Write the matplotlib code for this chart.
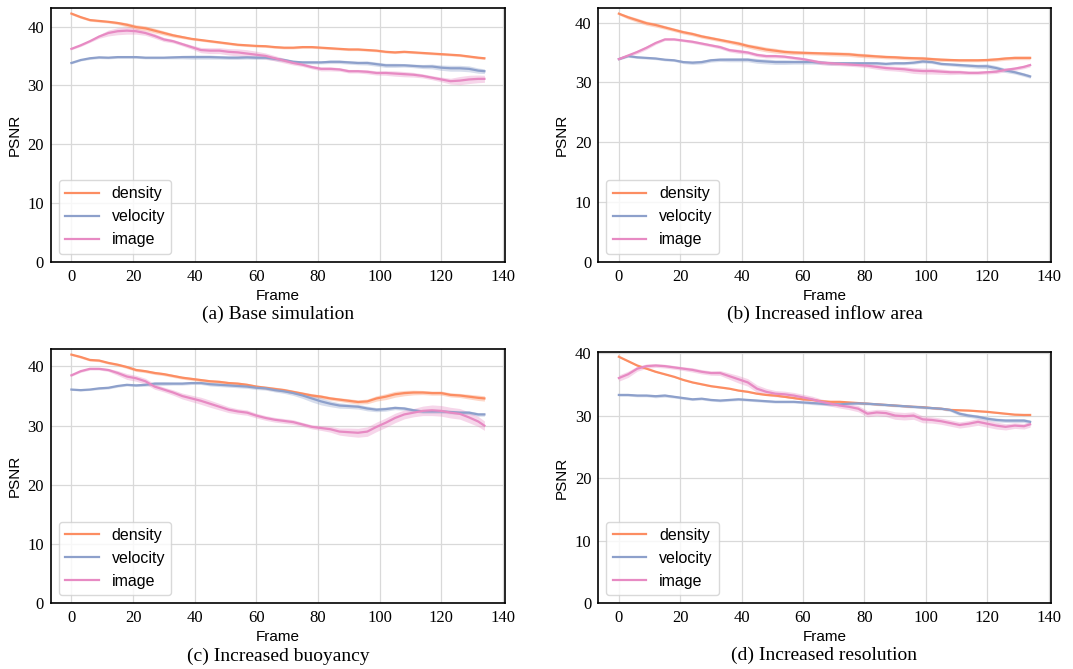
import numpy as np
import matplotlib.pyplot as plt

# frames sampled every 3 steps, plus the last frame
frames = np.append(np.arange(0, 133, 3), 134)

# (a) base simulation
a_density = [42.2, 41.6, 41.1, 40.95, 40.8, 40.6, 40.3, 39.9, 39.7, 39.3, 38.9, 38.5, 38.2, 37.9, 37.7, 37.5,
             37.3, 37.1, 36.9, 36.8, 36.7, 36.65, 36.5, 36.4, 36.4, 36.5, 36.5, 36.4, 36.3, 36.2, 36.1, 36.1,
             36.0, 35.9, 35.7, 35.6, 35.7, 35.6, 35.5, 35.4, 35.3, 35.2, 35.1, 34.9, 34.7, 34.6]
a_velocity = [33.8, 34.3, 34.6, 34.75, 34.7, 34.8, 34.8, 34.8, 34.7, 34.7, 34.7, 34.75, 34.8, 34.8, 34.8, 34.8,
              34.75, 34.7, 34.7, 34.75, 34.7, 34.7, 34.5, 34.3, 34.0, 33.9, 33.9, 33.9, 34.0, 34.0, 33.9, 33.8,
              33.8, 33.6, 33.4, 33.4, 33.4, 33.3, 33.2, 33.2, 33.0, 32.9, 32.9, 32.8, 32.5, 32.4]
a_image = [36.2, 36.8, 37.5, 38.3, 38.9, 39.2, 39.3, 39.2, 38.9, 38.4, 37.8, 37.5, 37.0, 36.5, 36.0, 35.9,
           35.9, 35.7, 35.6, 35.4, 35.2, 35.0, 34.6, 34.2, 33.8, 33.5, 33.1, 32.8, 32.8, 32.7, 32.4, 32.4,
           32.3, 32.1, 32.1, 32.0, 31.9, 31.8, 31.6, 31.3, 31.0, 30.7, 30.8, 31.0, 31.1, 31.1]
a_density_sd = [0.2, 0.2, 0.2, 0.2, 0.2, 0.25, 0.35, 0.4, 0.4, 0.4, 0.35, 0.3, 0.25, 0.2, 0.2, 0.2,
                0.2, 0.2, 0.2, 0.2, 0.2, 0.2, 0.2, 0.2, 0.2, 0.2, 0.2, 0.2, 0.2, 0.2, 0.2, 0.2,
                0.2, 0.2, 0.2, 0.2, 0.2, 0.2, 0.2, 0.2, 0.2, 0.2, 0.2, 0.2, 0.2, 0.2]
a_velocity_sd = [0.15, 0.15, 0.2, 0.2, 0.2, 0.2, 0.2, 0.2, 0.2, 0.2, 0.2, 0.25, 0.3, 0.35, 0.35, 0.35,
                 0.3, 0.3, 0.3, 0.3, 0.3, 0.3, 0.3, 0.3, 0.3, 0.25, 0.25, 0.25, 0.3, 0.3, 0.3, 0.3,
                 0.35, 0.35, 0.35, 0.35, 0.3, 0.3, 0.35, 0.4, 0.45, 0.5, 0.5, 0.5, 0.45, 0.4]
a_image_sd = [0.15, 0.2, 0.2, 0.3, 0.5, 0.6, 0.6, 0.5, 0.4, 0.4, 0.35, 0.3, 0.3, 0.35, 0.45, 0.5,
              0.5, 0.55, 0.6, 0.65, 0.6, 0.5, 0.45, 0.4, 0.35, 0.3, 0.3, 0.35, 0.35, 0.3, 0.3, 0.3,
              0.35, 0.35, 0.4, 0.45, 0.45, 0.4, 0.35, 0.35, 0.4, 0.5, 0.7, 0.7, 0.65, 0.6]

# (b) increased inflow area
b_density = [41.5, 40.9, 40.4, 39.9, 39.6, 39.2, 38.8, 38.4, 38.1, 37.7, 37.4, 37.1, 36.8, 36.5, 36.1, 35.8,
             35.5, 35.3, 35.1, 35.0, 34.95, 34.9, 34.85, 34.8, 34.75, 34.7, 34.55, 34.45, 34.35, 34.25, 34.2, 34.1,
             34.05, 34.0, 33.9, 33.8, 33.75, 33.7, 33.7, 33.7, 33.75, 33.85, 34.0, 34.1, 34.1, 34.1]
b_velocity = [33.9, 34.4, 34.2, 34.1, 34.0, 33.8, 33.7, 33.4, 33.3, 33.4, 33.7, 33.8, 33.8, 33.8, 33.8, 33.6,
              33.5, 33.4, 33.4, 33.4, 33.4, 33.4, 33.3, 33.2, 33.2, 33.2, 33.2, 33.2, 33.2, 33.1, 33.2, 33.2,
              33.3, 33.5, 33.4, 33.1, 33.0, 32.9, 32.8, 32.7, 32.7, 32.4, 32.0, 31.7, 31.3, 31.0]
b_image = [33.9, 34.5, 35.1, 35.8, 36.6, 37.2, 37.2, 37.0, 36.8, 36.5, 36.2, 35.9, 35.4, 35.2, 35.0, 34.6,
           34.4, 34.4, 34.3, 34.1, 33.9, 33.6, 33.3, 33.2, 33.1, 33.0, 32.9, 32.8, 32.6, 32.4, 32.3, 32.2,
           32.0, 31.9, 31.9, 31.8, 31.7, 31.7, 31.6, 31.6, 31.7, 31.8, 32.1, 32.3, 32.6, 32.9]
b_density_sd = [0.2, 0.3, 0.35, 0.35, 0.35, 0.3, 0.3, 0.3, 0.3, 0.3, 0.3, 0.3, 0.3, 0.35, 0.35, 0.4,
                0.4, 0.4, 0.35, 0.35, 0.3, 0.3, 0.3, 0.35, 0.35, 0.35, 0.35, 0.35, 0.3, 0.3, 0.3, 0.3,
                0.3, 0.35, 0.3, 0.3, 0.25, 0.25, 0.25, 0.25, 0.25, 0.3, 0.3, 0.3, 0.3, 0.3]
b_velocity_sd = [0.15, 0.2, 0.2, 0.2, 0.2, 0.2, 0.2, 0.25, 0.3, 0.3, 0.3, 0.3, 0.35, 0.35, 0.35, 0.4,
                 0.4, 0.4, 0.4, 0.35, 0.35, 0.35, 0.3, 0.3, 0.3, 0.3, 0.3, 0.25, 0.25, 0.25, 0.25, 0.25,
                 0.25, 0.25, 0.25, 0.25, 0.25, 0.3, 0.3, 0.35, 0.4, 0.4, 0.35, 0.3, 0.3, 0.3]
b_image_sd = [0.15, 0.2, 0.3, 0.3, 0.25, 0.2, 0.2, 0.2, 0.25, 0.25, 0.25, 0.3, 0.3, 0.35, 0.3, 0.3,
              0.3, 0.3, 0.25, 0.25, 0.25, 0.3, 0.35, 0.35, 0.3, 0.3, 0.3, 0.35, 0.4, 0.4, 0.4, 0.45,
              0.5, 0.5, 0.5, 0.45, 0.4, 0.35, 0.3, 0.3, 0.3, 0.3, 0.3, 0.3, 0.3, 0.3]

# (c) increased buoyancy
c_density = [42.0, 41.6, 41.1, 41.0, 40.6, 40.3, 39.9, 39.4, 39.2, 38.9, 38.7, 38.4, 38.1, 37.9, 37.7, 37.5,
             37.4, 37.2, 37.1, 36.9, 36.6, 36.4, 36.2, 36.0, 35.7, 35.4, 35.1, 34.9, 34.6, 34.4, 34.2, 34.0,
             34.1, 34.6, 34.9, 35.3, 35.5, 35.6, 35.6, 35.5, 35.5, 35.2, 35.1, 34.9, 34.7, 34.6]
c_velocity = [36.1, 36.0, 36.1, 36.3, 36.4, 36.7, 36.9, 36.8, 36.9, 37.1, 37.1, 37.1, 37.1, 37.2, 37.2, 37.0,
              36.9, 36.8, 36.7, 36.6, 36.4, 36.3, 36.0, 35.8, 35.5, 35.1, 34.6, 34.1, 33.7, 33.4, 33.3, 33.2,
              32.9, 32.7, 32.8, 33.0, 32.9, 32.6, 32.4, 32.4, 32.4, 32.3, 32.2, 32.2, 31.9, 31.9]
c_image = [38.5, 39.2, 39.6, 39.6, 39.4, 38.9, 38.3, 38.0, 37.5, 36.6, 36.1, 35.6, 35.0, 34.6, 34.2, 33.7,
           33.2, 32.7, 32.4, 32.2, 31.7, 31.3, 31.0, 30.8, 30.6, 30.2, 29.8, 29.6, 29.4, 29.0, 28.9, 28.8,
           29.0, 29.8, 30.5, 31.3, 31.9, 32.2, 32.5, 32.6, 32.5, 32.2, 32.0, 31.4, 30.7, 30.0]
c_density_sd = [0.15, 0.2, 0.2, 0.2, 0.2, 0.2, 0.25, 0.25, 0.25, 0.25, 0.25, 0.25, 0.25, 0.25, 0.25, 0.25,
                0.25, 0.25, 0.25, 0.25, 0.25, 0.3, 0.3, 0.3, 0.3, 0.3, 0.3, 0.3, 0.3, 0.3, 0.35, 0.35,
                0.4, 0.45, 0.5, 0.5, 0.45, 0.4, 0.35, 0.35, 0.35, 0.35, 0.35, 0.4, 0.45, 0.45]
c_velocity_sd = [0.15, 0.15, 0.15, 0.2, 0.2, 0.2, 0.2, 0.2, 0.25, 0.3, 0.3, 0.25, 0.25, 0.25, 0.25, 0.3,
                 0.3, 0.3, 0.3, 0.3, 0.3, 0.3, 0.3, 0.35, 0.4, 0.5, 0.6, 0.6, 0.5, 0.45, 0.4, 0.4,
                 0.4, 0.35, 0.35, 0.3, 0.3, 0.3, 0.3, 0.3, 0.3, 0.3, 0.3, 0.3, 0.3, 0.3]
c_image_sd = [0.15, 0.2, 0.2, 0.2, 0.25, 0.4, 0.5, 0.5, 0.5, 0.45, 0.4, 0.45, 0.5, 0.55, 0.6, 0.6,
              0.55, 0.5, 0.45, 0.45, 0.4, 0.4, 0.4, 0.4, 0.4, 0.35, 0.35, 0.4, 0.5, 0.6, 0.7, 0.75,
              0.8, 0.8, 0.8, 0.8, 0.75, 0.7, 0.8, 0.9, 0.9, 0.9, 0.9, 0.9, 0.85, 0.8]

# (d) increased resolution
d_density = [39.4, 38.7, 38.0, 37.5, 37.0, 36.6, 36.2, 35.7, 35.3, 35.0, 34.7, 34.5, 34.3, 34.0, 33.8, 33.5,
             33.3, 33.2, 33.0, 32.8, 32.6, 32.5, 32.3, 32.2, 32.2, 32.1, 32.0, 31.9, 31.8, 31.7, 31.6, 31.5,
             31.4, 31.35, 31.2, 31.1, 30.9, 30.85, 30.8, 30.7, 30.6, 30.45, 30.3, 30.15, 30.1, 30.1]
d_velocity = [33.3, 33.3, 33.2, 33.2, 33.1, 33.2, 33.0, 32.8, 32.6, 32.7, 32.5, 32.4, 32.5, 32.6, 32.5, 32.4,
              32.3, 32.2, 32.2, 32.2, 32.1, 32.0, 31.9, 31.8, 31.8, 31.9, 31.95, 31.9, 31.8, 31.7, 31.6, 31.5,
              31.4, 31.3, 31.2, 31.1, 30.9, 30.3, 30.0, 29.8, 29.5, 29.3, 29.2, 29.2, 29.2, 29.0]
d_image = [36.0, 36.6, 37.5, 37.9, 38.0, 37.9, 37.7, 37.5, 37.3, 37.0, 36.8, 36.8, 36.3, 35.8, 35.3, 34.3,
           33.8, 33.5, 33.4, 33.2, 32.9, 32.6, 32.2, 31.9, 31.6, 31.4, 31.1, 30.3, 30.5, 30.4, 30.0, 29.9,
           30.0, 29.4, 29.3, 29.1, 28.8, 28.5, 28.7, 29.0, 28.7, 28.4, 28.2, 28.4, 28.3, 28.6]
d_density_sd = [0.1, 0.1, 0.1, 0.1, 0.1, 0.1, 0.1, 0.1, 0.1, 0.1, 0.1, 0.1, 0.1, 0.1, 0.1, 0.1,
                0.1, 0.1, 0.1, 0.1, 0.1, 0.1, 0.1, 0.1, 0.1, 0.1, 0.1, 0.1, 0.1, 0.1, 0.1, 0.1,
                0.1, 0.1, 0.1, 0.1, 0.1, 0.1, 0.1, 0.1, 0.1, 0.1, 0.1, 0.1, 0.1, 0.1]
d_velocity_sd = [0.2, 0.2, 0.2, 0.2, 0.25, 0.25, 0.2, 0.2, 0.2, 0.2, 0.2, 0.2, 0.2, 0.2, 0.2, 0.2,
                 0.2, 0.2, 0.2, 0.2, 0.2, 0.25, 0.25, 0.25, 0.2, 0.2, 0.2, 0.2, 0.2, 0.2, 0.2, 0.2,
                 0.2, 0.2, 0.2, 0.2, 0.25, 0.3, 0.3, 0.3, 0.3, 0.3, 0.3, 0.3, 0.3, 0.3]
d_image_sd = [0.5, 0.5, 0.4, 0.35, 0.3, 0.3, 0.3, 0.3, 0.35, 0.35, 0.35, 0.4, 0.5, 0.6, 0.6, 0.6,
              0.55, 0.5, 0.5, 0.5, 0.5, 0.5, 0.45, 0.4, 0.4, 0.45, 0.5, 0.5, 0.5, 0.55, 0.6, 0.6,
              0.6, 0.55, 0.5, 0.5, 0.5, 0.5, 0.5, 0.55, 0.55, 0.55, 0.5, 0.45, 0.45, 0.45]

panels = [
    ("(a) Base simulation", a_density, a_velocity, a_image, a_density_sd, a_velocity_sd, a_image_sd, 43.1),
    ("(b) Increased inflow area", b_density, b_velocity, b_image, b_density_sd, b_velocity_sd, b_image_sd, 42.4),
    ("(c) Increased buoyancy", c_density, c_velocity, c_image, c_density_sd, c_velocity_sd, c_image_sd, 42.9),
    ("(d) Increased resolution", d_density, d_velocity, d_image, d_density_sd, d_velocity_sd, d_image_sd, 40.2),
]
positions = [
    [0.0473, 0.6088, 0.4234, 0.3788],
    [0.5576, 0.6088, 0.4216, 0.3788],
    [0.0473, 0.0982, 0.4234, 0.3797],
    [0.5576, 0.0982, 0.4216, 0.3760],
]
colors = {"density": "#fc8d62", "velocity": "#8da0cb", "image": "#e78ac3"}

fig = plt.figure(figsize=(10.73, 6.69), dpi=100)

for pos, (caption, dens, vel, img, dens_sd, vel_sd, img_sd, ytop) in zip(positions, panels):
    ax = fig.add_axes(pos)
    for name, y, sd in (("density", dens, dens_sd), ("velocity", vel, vel_sd), ("image", img, img_sd)):
        y = np.array(y)
        sd = np.array(sd)
        ax.fill_between(frames, y - sd, y + sd, color=colors[name], alpha=0.35, linewidth=0)
        ax.plot(frames, y, color=colors[name], linewidth=1.6, label=name)

    ax.set_xlim(-6.7, 140.7)
    ax.set_ylim(0, ytop)
    ax.set_xticks(np.arange(0, 141, 20))
    ax.set_yticks(np.arange(0, 41, 10))
    ax.grid(True, color="#d9d9d9", linewidth=0.9)
    ax.set_axisbelow(True)
    ax.tick_params(length=0, pad=5, labelsize=12)
    for lab in ax.get_xticklabels() + ax.get_yticklabels():
        lab.set_fontfamily("Liberation Serif")
    for sp in ax.spines.values():
        sp.set_color("black")
        sp.set_linewidth(1.2)

    ax.set_xlabel("Frame", fontsize=11, family="Liberation Sans", labelpad=3)
    ax.set_ylabel("PSNR", fontsize=11, family="Liberation Sans", labelpad=4)
    leg = ax.legend(loc="lower left", handlelength=2.1, handletextpad=0.8,
                    borderaxespad=0.5, prop={"family": "Liberation Sans", "size": 11.5})
    leg.get_frame().set_edgecolor("#d0d0d0")
    ax.text(0.5, -0.207, caption, transform=ax.transAxes, ha="center", va="center",
            fontsize=14, family="Liberation Serif")

fig.savefig("out.png", dpi=100)
